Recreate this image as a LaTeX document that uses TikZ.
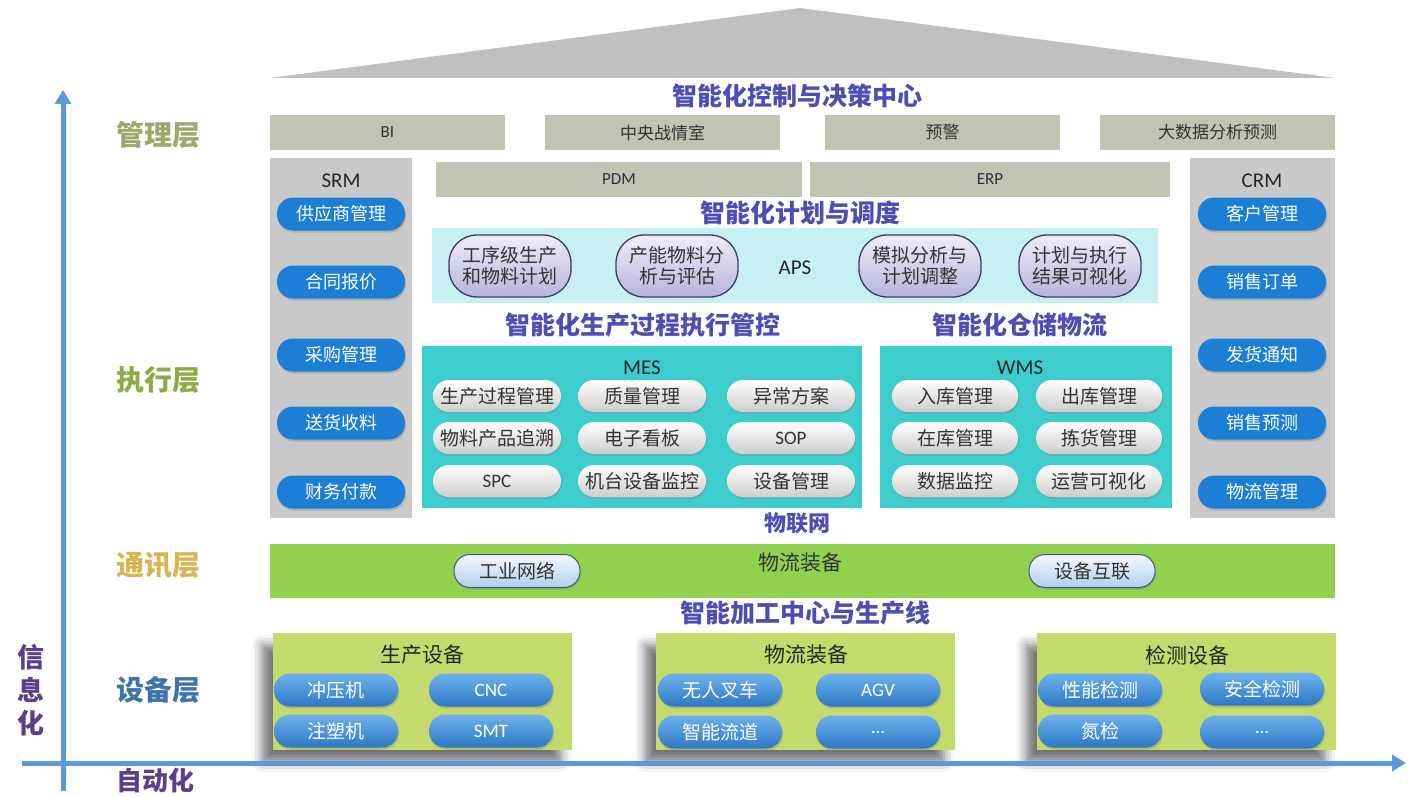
\documentclass[tikz,border=0pt]{standalone}
\usepackage{fontspec}
\setmainfont{Noto Sans CJK SC}
\newfontfamily\lat{Carlito}
\usetikzlibrary{shadows,shadows.blur,arrows.meta}
\definecolor{roofgray}{RGB}{192,192,192}
\definecolor{boxgray}{RGB}{192,196,178}
\definecolor{colgray}{RGB}{201,201,201}
\definecolor{btnblue}{RGB}{28,126,212}
\definecolor{apscyan}{RGB}{198,240,243}
\definecolor{ovaltop}{RGB}{238,236,250}
\definecolor{ovalbot}{RGB}{184,180,220}
\definecolor{ovalline}{RGB}{60,58,100}
\definecolor{teal}{RGB}{61,205,205}
\definecolor{pillgray}{RGB}{205,205,205}
\definecolor{iotgreen}{RGB}{146,208,80}
\definecolor{lbtop}{RGB}{244,249,255}
\definecolor{lbbot}{RGB}{176,206,238}
\definecolor{lbline}{RGB}{60,90,120}
\definecolor{eqgreen}{RGB}{197,218,108}
\definecolor{eqtop}{RGB}{110,178,236}
\definecolor{eqbot}{RGB}{44,120,196}
\definecolor{titleblue}{RGB}{76,78,180}
\definecolor{axisblue}{RGB}{91,155,213}
\definecolor{mgmt}{RGB}{157,168,108}
\definecolor{exec}{RGB}{141,170,69}
\definecolor{comm}{RGB}{214,181,82}
\definecolor{devc}{RGB}{63,116,168}
\definecolor{infoc}{RGB}{91,63,140}
\tikzset{
  fs/.style={font=\fontsize{#1}{#1}\selectfont},
  topbox/.style={fill=boxgray, inner sep=0, minimum height=35, text=black!80, font=\fontsize{17}{17}\selectfont},
  colbox/.style={fill=colgray, inner sep=0},
  ttl/.style={text=titleblue, font=\fontsize{25}{25}\selectfont\bfseries},
  layer/.style={font=\fontsize{28}{28}\selectfont\bfseries},
  bluebtn/.style={fill=btnblue, rounded corners=16, minimum width=128, minimum height=33, inner sep=0, text=white, font=\fontsize{18}{18}\selectfont, drop shadow={opacity=0.35, shadow xshift=1pt, shadow yshift=-2pt}},
  ovalbox/.style={draw=ovalline, line width=1.3, top color=ovaltop, bottom color=ovalbot, rounded corners=28, minimum width=122, minimum height=62, inner sep=0, align=center, font=\fontsize{19}{21}\selectfont, text=black!80},
  panel/.style={fill=teal, inner sep=0},
  pill/.style={top color=white, bottom color=pillgray, rounded corners=16, minimum width=128, minimum height=32, inner sep=0, font=\fontsize{19}{19}\selectfont, text=black!80, drop shadow={opacity=0.3, shadow xshift=1pt, shadow yshift=-2pt}},
  lbpill/.style={draw=lbline, line width=1, top color=lbtop, bottom color=lbbot, rounded corners=16, minimum width=126, minimum height=33, inner sep=0, font=\fontsize{19}{19}\selectfont, text=black!80, drop shadow={opacity=0.3, shadow xshift=1pt, shadow yshift=-2pt}},
  eqbox/.style={fill=eqgreen, inner sep=0, minimum width=299, minimum height=117, blur shadow={shadow xshift=-11pt, shadow yshift=-12pt, shadow blur radius=10pt, shadow opacity=55}},
  eqpill/.style={top color=eqtop, bottom color=eqbot, rounded corners=16, minimum width=124, minimum height=33, inner sep=0, text=white, font=\fontsize{19}{19}\selectfont, drop shadow={opacity=0.35, shadow xshift=1pt, shadow yshift=-2pt}},
  axis/.style={draw=axisblue, line width=5, -{Triangle[length=14pt, width=16pt]}},
}
\begin{document}
\begin{tikzpicture}[x=1pt,y=-1pt]
\useasboundingbox (0,0) rectangle (1408,797);
% roof
\fill[roofgray] (270,78) -- (800,8) -- (1335,78) -- cycle;
\node[ttl] (t1) at (797,96) {智能化控制与决策中心};
% top boxes
\node[topbox, minimum width=235] (bi) at (387.5,132.5) {\lat BI};
\node[topbox, minimum width=235] (war) at (662.5,132.5) {中央战情室};
\node[topbox, minimum width=235] (warn) at (942.5,132.5) {预警};
\node[topbox, minimum width=235] (bigd) at (1217.5,132.5) {大数据分析预测};
% layer labels
\node[layer, text=mgmt] (lm) at (158,135) {管理层};
\node[layer, text=exec] (le) at (158,380) {执行层};
\node[layer, text=comm] (lc) at (158,565) {通讯层};
\node[layer, text=devc] (ld) at (158,690) {设备层};
\node[layer, text=infoc, align=center, font=\fontsize{27}{33}\selectfont\bfseries] (lx) at (31,690) {信\\息\\化};
\node[layer, text=infoc, font=\fontsize{26}{26}\selectfont\bfseries] (la) at (155,781) {自动化};
% SRM column
\node[colbox, minimum width=142, minimum height=360] (srm) at (341,338) {};
\node[fs=21, text=black!85] (srmt) at (341,181) {\lat SRM};
\node[bluebtn] (s1) at (341,214) {供应商管理};
\node[bluebtn] (s2) at (341,282) {合同报价};
\node[bluebtn] (s3) at (341,355) {采购管理};
\node[bluebtn] (s4) at (341,423) {送货收料};
\node[bluebtn] (s5) at (341,492) {财务付款};
% CRM column
\node[colbox, minimum width=145, minimum height=360] (crm) at (1262.5,338) {};
\node[fs=21, text=black!85] (crmt) at (1262,181) {\lat CRM};
\node[bluebtn] (c1) at (1262,214) {客户管理};
\node[bluebtn] (c2) at (1262,282) {销售订单};
\node[bluebtn] (c3) at (1262,355) {发货通知};
\node[bluebtn] (c4) at (1262,423) {销售预测};
\node[bluebtn] (c5) at (1262,492) {物流管理};
% PDM / ERP
\node[topbox, minimum width=366] (pdm) at (619,179.5) {\lat PDM};
\node[topbox, minimum width=360] (erp) at (990,179.5) {\lat ERP};
\node[ttl] (t2) at (800,213) {智能化计划与调度};
% APS
\node[fill=apscyan, inner sep=0, minimum width=726, minimum height=75] (aps) at (795,265.5) {};
\node[fs=21, text=black!85] (apst) at (795,268) {\lat APS};
\node[ovalbox] (o1) at (510,266) {工序级生产\\和物料计划};
\node[ovalbox] (o2) at (677,266) {产能物料分\\析与评估};
\node[ovalbox] (o3) at (920,266) {模拟分析与\\计划调整};
\node[ovalbox] (o4) at (1080,266) {计划与执行\\结果可视化};
\node[ttl] (t3) at (643,325) {智能化生产过程执行管控};
\node[ttl] (t4) at (1020,325) {智能化仓储物流};
% MES
\node[panel, minimum width=440, minimum height=162] (mes) at (642,427) {};
\node[fs=21, text=black!85] (mest) at (642,368) {\lat MES};
\node[pill] (m1) at (497,396) {生产过程管理};
\node[pill] (m2) at (642,396) {质量管理};
\node[pill] (m3) at (791,396) {异常方案};
\node[pill] (m4) at (497,438) {物料产品追溯};
\node[pill] (m5) at (642,438) {电子看板};
\node[pill] (m6) at (791,438) {\lat SOP};
\node[pill] (m7) at (497,481) {\lat SPC};
\node[pill] (m8) at (642,481) {机台设备监控};
\node[pill] (m9) at (791,481) {设备管理};
% WMS
\node[panel, minimum width=292, minimum height=162] (wms) at (1026,427) {};
\node[fs=21, text=black!85] (wmst) at (1020,368) {\lat WMS};
\node[pill, minimum width=126] (w1) at (955,396) {入库管理};
\node[pill, minimum width=126] (w2) at (1099,396) {出库管理};
\node[pill, minimum width=126] (w3) at (955,438) {在库管理};
\node[pill, minimum width=126] (w4) at (1099,438) {拣货管理};
\node[pill, minimum width=126] (w5) at (955,481) {数据监控};
\node[pill, minimum width=126] (w6) at (1099,481) {运营可视化};
% IoT
\node[ttl, font=\fontsize{22}{22}\selectfont\bfseries] (t5) at (797,523) {物联网};
\node[fill=iotgreen, inner sep=0, minimum width=1065, minimum height=54] (iot) at (802.5,571) {};
\node[fs=21, text=black!80] (iott) at (800,563) {物流装备};
\node[lbpill] (n1) at (517,571) {工业网络};
\node[lbpill] (n2) at (1092,571) {设备互联};
\node[ttl] (t6) at (805,613) {智能加工中心与生产线};
% axes
\coordinate (yb) at (63,791);
\coordinate (yt) at (63,90);
\coordinate (xl) at (22,763);
\coordinate (xr) at (1406,763);
% equipment boxes
\node[eqbox] (e1) at (422.5,691.5) {};
\node[eqbox] (e2) at (805.5,691.5) {};
\node[eqbox] (e3) at (1186.5,691.5) {};
\draw[axis] (xl) -- (xr);
\draw[axis] (yb) -- (yt);
\node[fs=21, text=black!85] (e1t) at (422,655) {生产设备};
\node[eqpill] (p1) at (336,690) {冲压机};
\node[eqpill] (p2) at (491,690) {\lat CNC};
\node[eqpill] (p3) at (336,731) {注塑机};
\node[eqpill] (p4) at (491,731) {\lat SMT};
\node[fs=21, text=black!85] (e2t) at (806,655) {物流装备};
\node[eqpill] (q1) at (720,690) {无人叉车};
\node[eqpill] (q2) at (878,690) {\lat AGV};
\node[eqpill] (q3) at (720,732) {智能流道};
\node[eqpill] (q4) at (878,732) {\lat ...};
\node[fs=21, text=black!85] (e3t) at (1187,655) {检测设备};
\node[eqpill] (r1) at (1100,690) {性能检测};
\node[eqpill] (r2) at (1262,689) {安全检测};
\node[eqpill] (r3) at (1100,731) {氮检};
\node[eqpill] (r4) at (1262,732) {\lat ...};
\end{tikzpicture}
\end{document}
